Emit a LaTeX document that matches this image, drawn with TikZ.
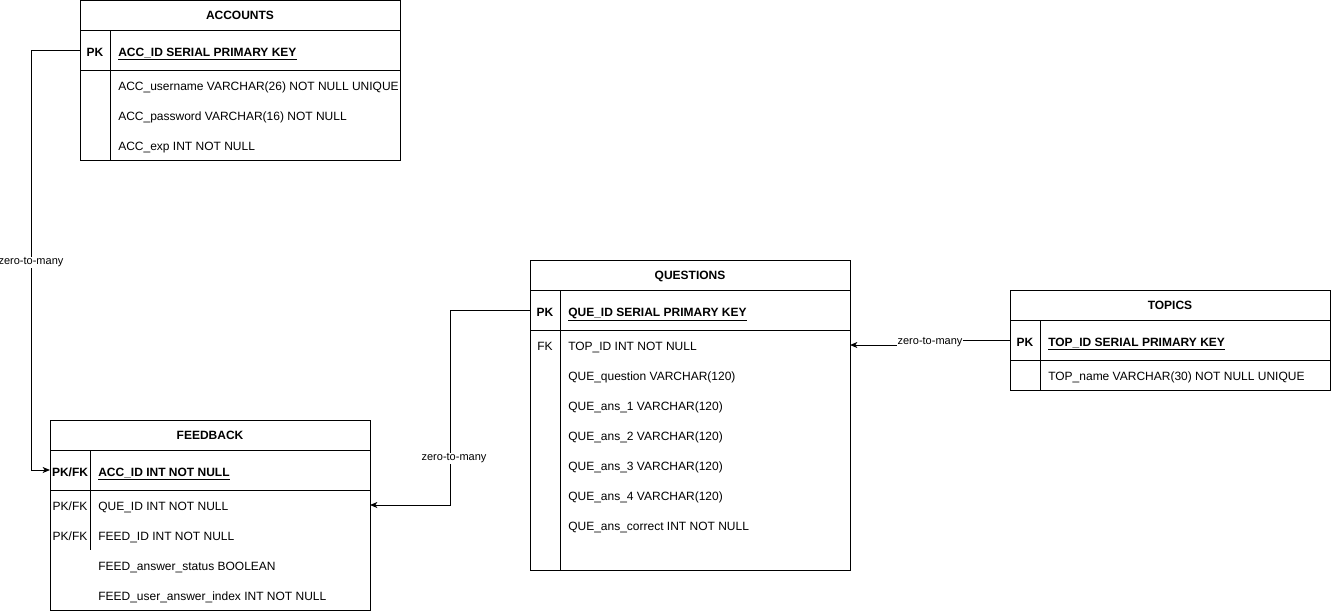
\documentclass[tikz,border=0pt]{standalone}
\usepackage{fontspec}
\setmainfont{Liberation Sans}
\usetikzlibrary{arrows.meta}
\tikzset{
  tbl/.style={draw, line width=0.75pt, inner sep=0pt, outer sep=0pt, minimum width=240pt, anchor=north west},
  sep/.style={line width=0.75pt},
  hdr/.style={font=\fontsize{9}{10}\selectfont\bfseries, inner sep=0pt, text height=6.75pt, text depth=0pt},
  keyc/.style={font=\fontsize{9}{10}\selectfont\bfseries, inner sep=0pt, outer sep=0pt, minimum height=30pt, text height=9pt, text depth=0pt},
  keyn/.style={font=\fontsize{9}{10}\selectfont, inner sep=0pt, outer sep=0pt, text height=7.5pt, text depth=0pt},
  fld/.style={font=\fontsize{9}{10}\selectfont, anchor=west, inner sep=0pt, text height=7.5pt, text depth=0pt},
  pkf/.style={font=\fontsize{9}{10}\selectfont\bfseries, anchor=west, inner sep=0pt, text height=9pt, text depth=0pt},
  conn/.style={line width=0.75pt, -{Stealth[length=5.5pt, width=4.5pt, inset=1.5pt]}},
  lbl/.style={font=\fontsize{8.25}{9}\selectfont, fill=white, inner sep=0.6pt}
}
\begin{document}
\begin{tikzpicture}[x=0.75pt, y=-0.75pt]
\useasboundingbox (0,0) rectangle (1331,611);

% ---------- ACCOUNTS ----------
\node[tbl, minimum height=120pt] (acc) at (80,0.5) {};
\draw[sep] (80,30) -- (400,30);
\draw[sep] (80,70) -- (400,70);
\draw[sep] (110,30) -- (110,160.5);
\node[hdr] (acch) at (240,15) {ACCOUNTS};
\node[keyc, minimum width=22.5pt] (apk) at (95,50) {PK};
\node[pkf] (apkt) at (118,50) {\underline{ACC\_ID SERIAL PRIMARY KEY}};
\node[fld] (ar1) at (118,85) {ACC\_username VARCHAR(26) NOT NULL UNIQUE};
\node[fld] (ar2) at (118,115) {ACC\_password VARCHAR(16) NOT NULL};
\node[fld] (ar3) at (118,145) {ACC\_exp INT NOT NULL};

% ---------- FEEDBACK ----------
\node[tbl, minimum height=142.5pt] (fb) at (50,420) {};
\draw[sep] (50,450) -- (370,450);
\draw[sep] (50,490) -- (370,490);
\draw[sep] (90,450) -- (90,550);
\node[hdr] (fbh) at (210,435) {FEEDBACK};
\node[keyc, minimum width=30pt] (fpk) at (70,470) {PK/FK};
\node[pkf] (fpkt) at (98,470) {\underline{ACC\_ID INT NOT NULL}};
\node[keyn] (fk1) at (70,505) {PK/FK};
\node[fld] (fr1) at (98,505) {QUE\_ID INT NOT NULL};
\node[keyn] (fk2) at (70,535) {PK/FK};
\node[fld] (fr2) at (98,535) {FEED\_ID INT NOT NULL};
\node[fld] (fr3) at (98,565) {FEED\_answer\_status BOOLEAN};
\node[fld] (fr4) at (98,595) {FEED\_user\_answer\_index INT NOT NULL};

% ---------- QUESTIONS ----------
\node[tbl, minimum height=232.5pt] (q) at (530,260) {};
\draw[sep] (530,290) -- (850,290);
\draw[sep] (530,330) -- (850,330);
\draw[sep] (560,290) -- (560,570);
\node[hdr] (qh) at (690,275) {QUESTIONS};
\node[keyc, minimum width=22.5pt] (qpk) at (545,310) {PK};
\node[pkf] (qpkt) at (568,310) {\underline{QUE\_ID SERIAL PRIMARY KEY}};
\node[keyn] (qk1) at (545,345) {FK};
\node[fld] (qr1) at (568,345) {TOP\_ID INT NOT NULL};
\node[fld] (qr2) at (568,375) {QUE\_question VARCHAR(120)};
\node[fld] (qr3) at (568,405) {QUE\_ans\_1 VARCHAR(120)};
\node[fld] (qr4) at (568,435) {QUE\_ans\_2 VARCHAR(120)};
\node[fld] (qr5) at (568,465) {QUE\_ans\_3 VARCHAR(120)};
\node[fld] (qr6) at (568,495) {QUE\_ans\_4 VARCHAR(120)};
\node[fld] (qr7) at (568,525) {QUE\_ans\_correct INT NOT NULL};

% ---------- TOPICS ----------
\node[tbl, minimum height=75pt] (tp) at (1010,290) {};
\draw[sep] (1010,320) -- (1330,320);
\draw[sep] (1010,360) -- (1330,360);
\draw[sep] (1040,320) -- (1040,390);
\node[hdr] (tph) at (1170,305) {TOPICS};
\node[keyc, minimum width=22.5pt] (tpk) at (1025,340) {PK};
\node[pkf] (tpkt) at (1048,340) {\underline{TOP\_ID SERIAL PRIMARY KEY}};
\node[fld] (tr1) at (1048,375) {TOP\_name VARCHAR(30) NOT NULL UNIQUE};

% ---------- connectors ----------
\draw[conn] (apk.west) -- ++(-49,0) |- (fpk.west);
\node[lbl] (l1) at (31,262) {zero-to-many};

\draw[conn] (qpk.west) -- ++(-80,0) |- (fb.east |- fr1);
\node[lbl] (l2) at (454,458) {zero-to-many};

\draw[conn] (tpk.west) -- ++(-80,0) -- ++(0,5) -- (q.east |- qr1);
\node[lbl] (l3) at (930,342) {zero-to-many};
\end{tikzpicture}
\end{document}
